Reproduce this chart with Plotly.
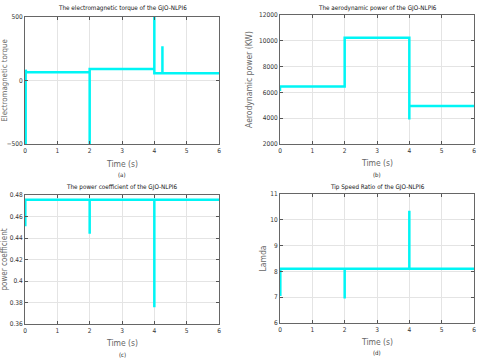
import plotly.graph_objects as go

# (a) electromagnetic torque
t_tq = [0.02, 0.02, 0.04, 0.04, 2, 2, 2, 4, 4, 4, 4.25, 4.25, 4.25, 6]
tq = [-500, 85, 85, 65, 65, -500, 90, 90, 500, 58, 58, 270, 58, 58]

# (b) aerodynamic power (kW)
t_p = [0, 0, 2, 2, 4, 4, 4, 6]
pw = [6100, 6450, 6450, 10230, 10230, 3900, 4950, 4950]

# (c) power coefficient
t_cp = [0.01, 0.01, 2, 2, 2, 4, 4, 4, 6]
cp = [0.451, 0.4756, 0.4756, 0.444, 0.4756, 0.4756, 0.3755, 0.4756, 0.4756]

# (d) tip speed ratio
t_lam = [0.01, 0.01, 2, 2, 2, 4, 4, 4, 6]
lam = [7.05, 8.1, 8.1, 6.95, 8.1, 8.1, 10.35, 8.1, 8.1]

W, H = 480, 362
NARROW = "Liberation Sans Narrow, DejaVu Sans Condensed, Liberation Sans, sans-serif"


def px_x(a, b):
    return [a / W, b / W]


def px_y(top, bot):
    return [1 - bot / H, 1 - top / H]


panels = [
    dict(t=t_tq, y=tq, xd=px_x(25, 219), yd=px_y(17, 144), yr=[-500, 500], dt=500,
         title="The electromagnetic torque of the GJO-NLPI6", ylab="Electromagnetic torque",
         tag="(a)", ty=8, xt=164, tgy=175, so=6, ys=7.8),
    dict(t=t_p, y=pw, xd=px_x(280, 474), yd=px_y(15, 144), yr=[2000, 12000], dt=2000,
         title="The aerodynamic power of the GJO-NLPI6", ylab="Aerodynamic power (KW)",
         tag="(b)", ty=8, xt=163, tgy=174, so=5, ys=8.5),
    dict(t=t_cp, y=cp, xd=px_x(25, 219), yd=px_y(195, 324), yr=[0.36, 0.48], dt=0.02,
         title="The power coefficient of the GJO-NLPI6", ylab="power coefficient",
         tag="(c)", ty=187, xt=343, tgy=354, so=3, ys=8),
    dict(t=t_lam, y=lam, xd=px_x(280, 474), yd=px_y(194, 323), yr=[6, 11], dt=1,
         title="Tip Speed Ratio of the GJO-NLPI6", ylab="Lamda",
         tag="(d)", ty=187, xt=342, tgy=352, so=2, ys=8.5),
]

fig = go.Figure()
ann = []
tick_font = dict(family=NARROW, size=6.5, color="#333")
for i, p in enumerate(panels):
    n = "" if i == 0 else str(i + 1)
    fig.add_trace(go.Scatter(x=p["t"], y=p["y"], mode="lines",
                             line=dict(color="#00f5f5", width=2.5),
                             xaxis="x" + n, yaxis="y" + n, hoverinfo="none"))
    ax = dict(showline=True, mirror="ticks", linecolor="#666", linewidth=1,
              ticks="inside", ticklen=3, tickcolor="#555", automargin=False,
              showgrid=True, gridcolor="#e4e4e4", gridwidth=1,
              zeroline=False, tickfont=tick_font)
    fig.update_layout({
        "xaxis" + n: dict(ax, domain=p["xd"], range=[0, 6], dtick=1, anchor="y" + n),
        "yaxis" + n: dict(ax, domain=p["yd"], range=p["yr"], dtick=p["dt"],
                          anchor="x" + n, tickformat="~r" if i == 2 else "d",
                          title=dict(text=p["ylab"], standoff=p["so"],
                                     font=dict(family=NARROW, size=p["ys"], color="#666"))),
    })
    xm = (p["xd"][0] + p["xd"][1]) / 2
    ann.append(dict(text=p["title"], x=xm, y=1 - p["ty"] / H, xref="paper", yref="paper",
                    xanchor="center", yanchor="middle", showarrow=False,
                    font=dict(family=NARROW, size=6.3, color="#111")))
    ann.append(dict(text="Time (s)", x=xm, y=1 - p["xt"] / H, xref="paper", yref="paper",
                    xanchor="center", yanchor="middle", showarrow=False,
                    font=dict(family=NARROW, size=8.5, color="#666")))
    ann.append(dict(text=p["tag"], x=xm, y=1 - p["tgy"] / H, xref="paper", yref="paper",
                    xanchor="center", yanchor="middle", showarrow=False,
                    font=dict(family=NARROW, size=6, color="#222")))

fig.update_layout(width=W, height=H, margin=dict(l=0, r=0, t=0, b=0),
                  paper_bgcolor="white", plot_bgcolor="white",
                  showlegend=False, annotations=ann)
fig.write_html("out.html", config={"displayModeBar": False},
               post_script="document.body.style.margin='0';")
